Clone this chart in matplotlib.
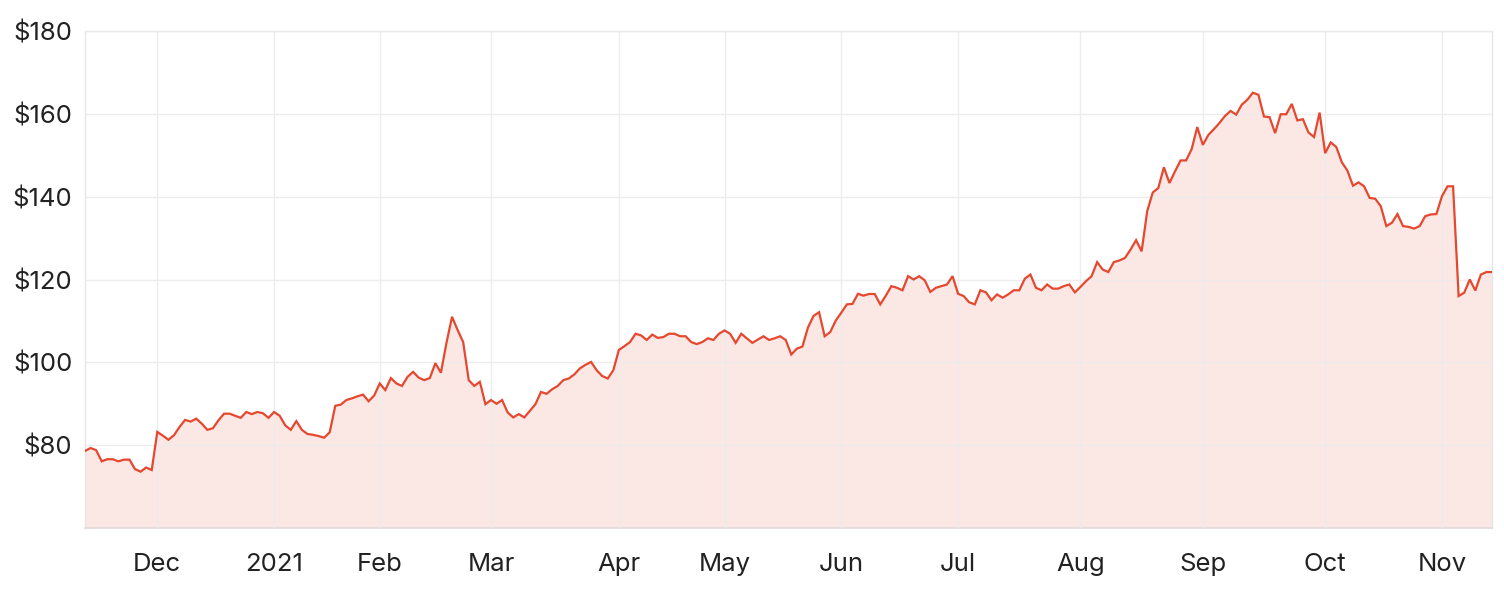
import matplotlib
matplotlib.use("Agg")
import matplotlib.pyplot as plt
import numpy as np

# Daily closing prices (trading-day order), mid-Nov 2020 to mid-Nov 2021
prices = [
    78.6, 79.3, 78.8, 76.1, 76.6, 76.6, 76.1, 76.5, 76.5, 74.2,
    73.6, 74.6, 74.0, 83.2, 82.3, 81.3, 82.4, 84.4, 86.1, 85.7,
    86.4, 85.2, 83.7, 84.1, 86.0, 87.6, 87.6, 87.1, 86.6, 88.0,
    87.5, 88.0, 87.7, 86.6, 88.0, 87.1, 84.8, 83.7, 85.8, 83.7,
    82.7, 82.5, 82.2, 81.8, 83.1, 89.5, 89.8, 90.9, 91.3, 91.8,
    92.2, 90.6, 92.0, 94.9, 93.3, 96.2, 94.9, 94.3, 96.5, 97.7,
    96.3, 95.7, 96.2, 99.8, 97.5, 104.7, 111.0, 107.8, 104.9, 95.7,
    94.3, 95.3, 89.9, 90.9, 90.0, 90.9, 87.9, 86.7, 87.5, 86.7,
    88.3, 89.9, 92.85, 92.4, 93.5, 94.3, 95.7, 96.1, 97.1, 98.55,
    99.4, 100.1, 98.1, 96.7, 96.1, 98.1, 103.0, 103.9, 104.9, 106.9,
    106.5, 105.4, 106.7, 105.9, 106.1, 106.9, 106.9, 106.3, 106.3, 104.9,
    104.4, 104.9, 105.8, 105.4, 106.9, 107.7, 106.9, 104.7, 106.9, 105.8,
    104.7, 105.5, 106.3, 105.4, 105.8, 106.3, 105.4, 101.9, 103.3, 103.8,
    108.4, 111.2, 112.1, 106.3, 107.3, 110.1, 112.0, 114.0, 114.1, 116.55,
    116.1, 116.5, 116.5, 114.0, 116.1, 118.4, 118.0, 117.4, 120.8, 120.0,
    120.8, 119.8, 117.0, 118.0, 118.4, 118.8, 120.8, 116.55, 116.0, 114.5,
    114.0, 117.4, 116.9, 115.0, 116.4, 115.6, 116.4, 117.4, 117.4, 120.2,
    121.2, 118.0, 117.4, 118.8, 117.8, 117.8, 118.4, 118.8, 116.9, 118.2,
    119.6, 120.8, 124.2, 122.4, 121.8, 124.2, 124.6, 125.2, 127.2, 129.5,
    126.8, 136.5, 141.0, 142.1, 147.1, 143.3, 146.1, 148.75, 148.75, 151.5,
    156.8, 152.5, 154.9, 156.3, 157.8, 159.5, 160.7, 159.8, 162.2, 163.4,
    165.1, 164.6, 159.35, 159.2, 155.35, 159.9, 159.9, 162.4, 158.4, 158.7,
    155.5, 154.4, 160.3, 150.5, 153.1, 152.0, 148.3, 146.3, 142.65, 143.45,
    142.5, 139.7, 139.5, 137.7, 132.9, 133.7, 135.8, 132.9, 132.7, 132.3,
    132.9, 135.3, 135.7, 135.8, 140.1, 142.5, 142.5, 116.0, 116.8, 120.0,
    117.35, 121.2, 121.8, 121.8,
]

# Month labels and the trading-day index where each month starts
month_labels = ["Dec", "2021", "Feb", "Mar", "Apr", "May", "Jun",
                "Jul", "Aug", "Sep", "Oct", "Nov"]
month_index = [13, 34, 53, 73, 96, 115, 136, 157, 179, 201, 223, 244]

y_ticks = [80, 100, 120, 140, 160, 180]
y_tick_labels = ["$" + str(v) for v in y_ticks]

plt.rcParams["font.family"] = ["Inter", "DejaVu Sans"]

fig = plt.figure(figsize=(15.04, 5.96), dpi=100)
ax = fig.add_axes([85 / 1504, 1 - 528 / 596, (1492 - 85) / 1504, (528 - 31) / 596])

x = np.arange(len(prices))
line_color = "#e5472f"
ax.fill_between(x, prices, 60, color="#fbe8e5", linewidth=0, zorder=1)
ax.plot(x, prices, color=line_color, linewidth=1.6, zorder=3,
        solid_joinstyle="miter")

ax.set_xlim(0, len(prices) - 1)
ax.set_ylim(60, 180)

ax.set_yticks(y_ticks)
ax.set_yticklabels(y_tick_labels)
ax.set_xticks(month_index)
ax.set_xticklabels(month_labels)

ax.grid(True, color="#ebebeb", linewidth=1.0, zorder=2)
ax.set_axisbelow(False)
for gl in ax.get_xgridlines() + ax.get_ygridlines():
    gl.set_zorder(2)
    gl.set_alpha(0.9)

ax.tick_params(axis="both", length=0, labelsize=18.5, colors="#222222")
ax.tick_params(axis="y", pad=9)
ax.tick_params(axis="x", pad=18)

for side in ["left", "right", "top"]:
    ax.spines[side].set_color("#e6e6e6")
    ax.spines[side].set_linewidth(1.0)
ax.spines["bottom"].set_color("#e2d9d9")
ax.spines["bottom"].set_linewidth(1.2)

fig.savefig("out.png", dpi=100, facecolor="white")
